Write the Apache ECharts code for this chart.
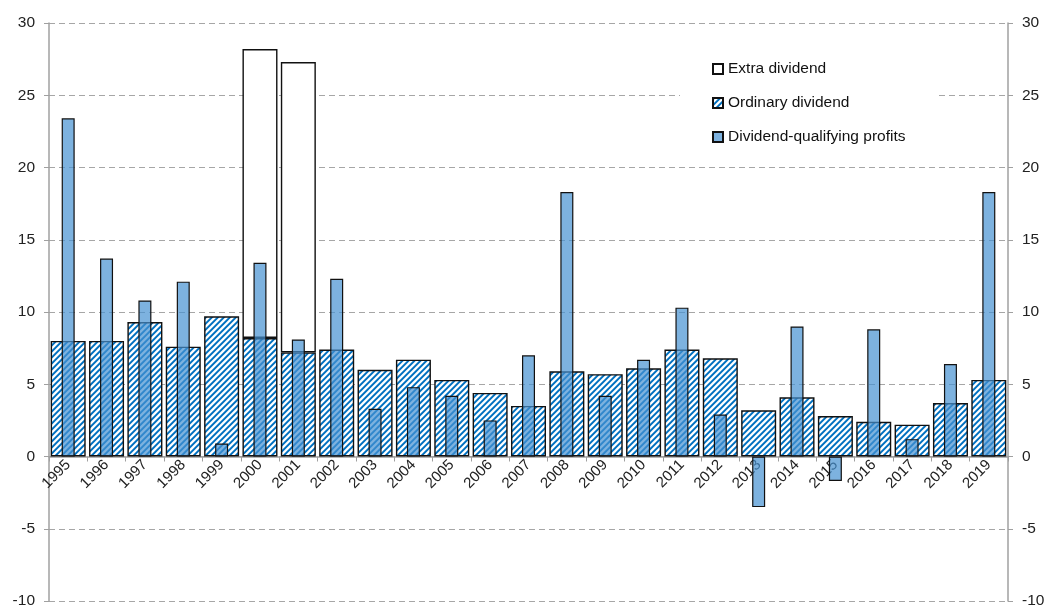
<!DOCTYPE html>
<html>
<head>
<meta charset="utf-8">
<script src="https://cdn.jsdelivr.net/npm/echarts@6/dist/echarts.min.js"></script>
<style>
html,body{margin:0;padding:0;background:#fff;}
#chart{width:1048px;height:608px;}
</style>
</head>
<body>
<div id="chart"></div>
<script>
const categories = ['1995','1996','1997','1998','1999','2000','2001','2002','2003','2004','2005','2006','2007','2008','2009','2010','2011','2012','2013','2014','2015','2016','2017','2018','2019'];
const ordinaryDividend = [8.0, 8.0, 9.3, 7.6, 9.7, 8.2, 7.2, 7.4, 6.0, 6.7, 5.3, 4.4, 3.5, 5.9, 5.7, 6.1, 7.4, 6.8, 3.2, 4.1, 2.8, 2.4, 2.2, 3.7, 5.3];
const extraDividend = [null, null, null, null, null, 20.0, 20.1, null, null, null, null, null, null, null, null, null, null, null, null, null, null, null, null, null, null];
const qualifyingProfits = [23.4, 13.7, 10.8, 12.1, 0.9, 13.4, 8.1, 12.3, 3.3, 4.8, 4.2, 2.5, 7.0, 18.3, 4.2, 6.7, 10.3, 2.9, -3.5, 9.0, -1.7, 8.8, 1.2, 6.4, 18.3];
const yTicks = {min: -10, max: 30, interval: 5};

function makeHatch() {
  const n = 6, b = 2.7, ss = 4;
  const c = document.createElement('canvas');
  c.width = n; c.height = n;
  const ctx = c.getContext('2d');
  const img = ctx.createImageData(n, n);
  for (let y = 0; y < n; y++) {
    for (let x = 0; x < n; x++) {
      let cov = 0;
      for (let sy = 0; sy < ss; sy++) for (let sx = 0; sx < ss; sx++) {
        const px = x + (sx + 0.5) / ss, py = y + (sy + 0.5) / ss;
        const d = ((px + py) % n + n) % n;
        if (d < b) cov++;
      }
      cov /= ss * ss;
      const i = (y * n + x) * 4;
      img.data[i] = Math.round(255 * (1 - cov));
      img.data[i+1] = Math.round(255 * (1 - cov) + 112 * cov);
      img.data[i+2] = Math.round(255 * (1 - cov) + 192 * cov);
      img.data[i+3] = 255;
    }
  }
  ctx.putImageData(img, 0, 0);
  return c;
}

const gridTop = 23, gridBottom = 7, chartH = 608;
const plotH = chartH - gridTop - gridBottom;
// distance from bottom of plot to the zero line, computed from the axis range
const zeroOffset = plotH * (0 - yTicks.min) / (yTicks.max - yTicks.min);

const chart = echarts.init(document.getElementById('chart'), null, {renderer: 'canvas'});
const font = 'Liberation Sans, Arial, sans-serif';
const gridLine = {show: true, lineStyle: {color: '#a6a6a6', type: [6, 4], width: 1}};

chart.setOption({
  animation: false,
  backgroundColor: '#fff',
  textStyle: {fontFamily: font},
  grid: {left: 49, right: 40, top: gridTop, bottom: gridBottom, containLabel: false, outerBoundsMode: 'none'},
  legend: {
    data: ['Extra dividend', 'Ordinary dividend', 'Dividend-qualifying profits'],
    orient: 'vertical',
    left: 680,
    top: 51,
    padding: [10, 30, 10, 32],
    backgroundColor: '#fff',
    icon: 'rect',
    itemWidth: 10,
    itemHeight: 10,
    itemGap: 18,
    textStyle: {fontSize: 15.5, color: '#111', fontFamily: font}
  },
  xAxis: [
    {
      type: 'category',
      data: categories,
      position: 'bottom',
      offset: -zeroOffset,
      axisLine: {onZero: false, lineStyle: {color: '#a0a0a0', width: 1.5}},
      axisTick: {show: true, length: 5, lineStyle: {color: '#a0a0a0'}},
      axisLabel: {rotate: 45, fontSize: 15, color: '#222', margin: 6, fontFamily: font, interval: 0},
      splitLine: {show: false}
    },
    {
      type: 'category',
      data: categories,
      position: 'top',
      show: false
    }
  ],
  yAxis: [
    {
      type: 'value', position: 'left',
      min: yTicks.min, max: yTicks.max, interval: yTicks.interval,
      axisLine: {show: true, lineStyle: {color: '#a0a0a0', width: 1.5}},
      axisTick: {show: true, length: 5, lineStyle: {color: '#a0a0a0'}},
      axisLabel: {fontSize: 15.5, color: '#222', margin: 14, fontFamily: font},
      splitLine: gridLine
    },
    {
      type: 'value', position: 'right',
      min: yTicks.min, max: yTicks.max, interval: yTicks.interval,
      axisLine: {show: true, lineStyle: {color: '#a0a0a0', width: 1.5}},
      axisTick: {show: true, length: 5, lineStyle: {color: '#a0a0a0'}},
      axisLabel: {fontSize: 15.5, color: '#222', margin: 14, fontFamily: font},
      splitLine: {show: false}
    }
  ],
  series: [
    {
      name: 'Ordinary dividend',
      type: 'bar',
      xAxisIndex: 0, yAxisIndex: 0,
      stack: 'div',
      barWidth: 35,
      data: ordinaryDividend,
      itemStyle: {color: {image: makeHatch(), repeat: 'repeat'}, borderColor: '#111', borderWidth: 1.4}
    },
    {
      name: 'Extra dividend',
      type: 'bar',
      xAxisIndex: 0, yAxisIndex: 0,
      stack: 'div',
      barWidth: 35,
      data: extraDividend,
      itemStyle: {color: '#ffffff', borderColor: '#111', borderWidth: 1.4}
    },
    {
      name: 'Dividend-qualifying profits',
      type: 'bar',
      xAxisIndex: 1, yAxisIndex: 0,
      barWidth: 13,
      data: qualifyingProfits,
      itemStyle: {color: 'rgba(70,145,210,0.7)', borderColor: '#111', borderWidth: 1.2}
    }
  ]
});
</script>
</body>
</html>
